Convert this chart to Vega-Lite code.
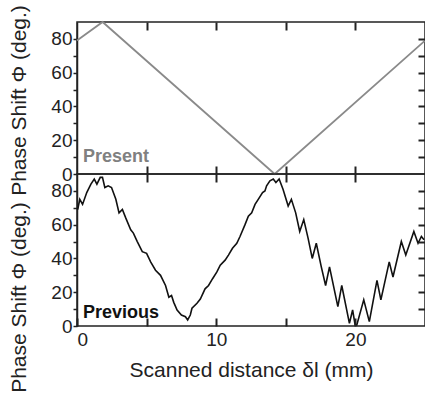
{
  "$schema": "https://vega.github.io/schema/vega-lite/v6.json",
  "padding": {"left": 7, "top": 3, "right": 0, "bottom": 0},
  "spacing": 0,
  "bounds": "flush",
  "config": {
    "font": "Liberation Sans",
    "view": {"stroke": "#222", "strokeWidth": 1.5},
    "axis": {"zindex": 1, "domainColor": "#222", "domainWidth": 1.5, "tickColor": "#222", "tickWidth": 1.5, "labelColor": "#222", "titleColor": "#222", "labelFont": "Liberation Sans", "titleFont": "Liberation Sans", "grid": false, "labelFontSize": 19, "titleFontSize": 21, "titleFontWeight": "normal"}
  },
  "datasets": {
    "present": [
      {"x": 0, "y": 79}, {"x": 1.84, "y": 90}, {"x": 14.2, "y": 0}, {"x": 25, "y": 79}
    ],
    "previous": [
      {"x": 0.05, "y": 69}, {"x": 0.2, "y": 75}, {"x": 0.4, "y": 72}, {"x": 0.7, "y": 79}, {"x": 1.0, "y": 84},
      {"x": 1.24, "y": 87}, {"x": 1.43, "y": 84}, {"x": 1.67, "y": 88}, {"x": 1.83, "y": 88}, {"x": 2.0, "y": 82},
      {"x": 2.24, "y": 83}, {"x": 2.48, "y": 82}, {"x": 2.79, "y": 75}, {"x": 3.02, "y": 67}, {"x": 3.26, "y": 69},
      {"x": 3.5, "y": 64}, {"x": 3.86, "y": 57}, {"x": 4.05, "y": 55}, {"x": 4.33, "y": 50}, {"x": 4.69, "y": 44},
      {"x": 5.0, "y": 43}, {"x": 5.29, "y": 38}, {"x": 5.64, "y": 33}, {"x": 6.0, "y": 30}, {"x": 6.36, "y": 24},
      {"x": 6.6, "y": 17}, {"x": 6.79, "y": 18}, {"x": 6.95, "y": 14}, {"x": 7.19, "y": 9.5}, {"x": 7.5, "y": 6.5},
      {"x": 7.79, "y": 5.5}, {"x": 7.95, "y": 3.6}, {"x": 8.14, "y": 6.5}, {"x": 8.26, "y": 10.5}, {"x": 8.62, "y": 13.5},
      {"x": 8.86, "y": 16}, {"x": 9.2, "y": 22}, {"x": 9.45, "y": 24}, {"x": 9.74, "y": 28}, {"x": 10.05, "y": 32},
      {"x": 10.29, "y": 36}, {"x": 10.64, "y": 39}, {"x": 10.88, "y": 42}, {"x": 11.17, "y": 46}, {"x": 11.48, "y": 49},
      {"x": 11.71, "y": 53}, {"x": 12.07, "y": 60}, {"x": 12.31, "y": 65}, {"x": 12.55, "y": 67}, {"x": 12.79, "y": 72},
      {"x": 13.02, "y": 75}, {"x": 13.33, "y": 79}, {"x": 13.5, "y": 80}, {"x": 13.62, "y": 83}, {"x": 13.86, "y": 86},
      {"x": 14.1, "y": 87}, {"x": 14.29, "y": 85}, {"x": 14.52, "y": 87}, {"x": 14.8, "y": 81}, {"x": 15.17, "y": 71},
      {"x": 15.4, "y": 75}, {"x": 15.71, "y": 67}, {"x": 16.0, "y": 56}, {"x": 16.29, "y": 63}, {"x": 16.6, "y": 52},
      {"x": 16.9, "y": 40}, {"x": 17.19, "y": 49}, {"x": 17.55, "y": 35}, {"x": 17.86, "y": 24}, {"x": 18.14, "y": 35},
      {"x": 18.74, "y": 11.5}, {"x": 19.02, "y": 24}, {"x": 19.57, "y": 1.6}, {"x": 19.8, "y": 9.5}, {"x": 19.98, "y": 0.6},
      {"x": 20.1, "y": 0.6}, {"x": 20.6, "y": 15.5}, {"x": 21.0, "y": 2.6}, {"x": 21.55, "y": 27}, {"x": 21.83, "y": 15.5},
      {"x": 22.43, "y": 38}, {"x": 22.7, "y": 29}, {"x": 23.3, "y": 50}, {"x": 23.62, "y": 42}, {"x": 24.2, "y": 56},
      {"x": 24.5, "y": 49}, {"x": 24.74, "y": 53}, {"x": 24.93, "y": 51}
    ],
    "labelTop": [{"x": 0.43, "y": 7.1, "t": "Present"}],
    "labelBottom": [{"x": 0.43, "y": 4.7, "t": "Previous"}]
  },
  "vconcat": [
    {
      "width": 348,
      "height": 152,
      "resolve": {"axis": {"x": "independent", "y": "independent"}},
      "layer": [
        {
          "data": {"name": "present"},
          "mark": {"type": "line", "color": "#8a8a8a", "strokeWidth": 1.8},
          "encoding": {
            "x": {"field": "x", "type": "quantitative", "scale": {"domain": [0, 25], "nice": false, "zero": false},
                  "axis": {"orient": "bottom", "title": null, "labels": false, "values": [5, 10, 15, 20], "tickSize": -8, "tickColor": "#222", "tickWidth": 2, "domain": false, "zindex": 1}},
            "y": {"field": "y", "type": "quantitative", "scale": {"domain": [0, 90], "nice": false},
                  "axis": {"orient": "left", "title": "Phase Shift Φ (deg.)", "values": [0, 10, 20, 30, 40, 50, 60, 70, 80],
                           "labelExpr": "datum.value % 20 == 0 ? datum.label : ''", "tickSize": 4, "labelPadding": 1,
                           "titleX": -58, "titleY": 78, "titleBaseline": "middle", "titleAnchor": "middle"}}
          }
        },
        {
          "data": {"name": "present"},
          "mark": {"type": "line", "opacity": 0},
          "encoding": {
            "x": {"field": "x", "type": "quantitative", "axis": {"orient": "top", "title": null, "labels": false, "values": [5, 10, 15, 20], "tickSize": -8, "tickColor": "#222", "tickWidth": 2, "domain": false, "zindex": 1}},
            "y": {"field": "y", "type": "quantitative", "axis": {"orient": "right", "title": null, "labels": false, "values": [10, 20, 30, 40, 50, 60, 70, 80], "tickSize": -7, "tickColor": "#222", "tickWidth": 2, "domain": false, "zindex": 1}}
          }
        },
        {
          "data": {"name": "labelTop"},
          "mark": {"type": "text", "align": "left", "baseline": "alphabetic", "fontSize": 18, "fontWeight": "bold", "color": "#808080"},
          "encoding": {
            "x": {"field": "x", "type": "quantitative", "axis": null},
            "y": {"field": "y", "type": "quantitative", "axis": null},
            "text": {"field": "t"}
          }
        }
      ]
    },
    {
      "width": 348,
      "height": 152,
      "resolve": {"axis": {"x": "independent", "y": "independent"}},
      "layer": [
        {
          "data": {"name": "previous"},
          "mark": {"type": "line", "color": "#111", "strokeWidth": 1.6},
          "encoding": {
            "x": {"field": "x", "type": "quantitative", "scale": {"domain": [0, 25], "nice": false, "zero": false},
                  "axis": {"orient": "bottom", "title": "Scanned distance δl (mm)", "values": [0, 5, 10, 15, 20],
                           "labelExpr": "datum.value % 10 == 0 ? datum.label : ''", "tickSize": -8, "tickColor": "#222", "tickWidth": 2, "labelPadding": 12, "titlePadding": 10, "domain": false, "zindex": 1}},
            "y": {"field": "y", "type": "quantitative", "scale": {"domain": [0, 90], "nice": false},
                  "axis": {"orient": "left", "title": "Phase Shift Φ (deg.)", "values": [0, 10, 20, 30, 40, 50, 60, 70, 80],
                           "labelExpr": "datum.value % 20 == 0 ? datum.label : ''", "tickSize": 4, "labelPadding": 1,
                           "titleX": -58, "titleY": 123, "titleBaseline": "middle", "titleAnchor": "middle"}}
          }
        },
        {
          "data": {"name": "previous"},
          "mark": {"type": "line", "opacity": 0},
          "encoding": {
            "x": {"field": "x", "type": "quantitative", "axis": {"orient": "top", "title": null, "labels": false, "values": [5, 10, 15, 20], "tickSize": -8, "tickColor": "#222", "tickWidth": 2, "domain": false, "zindex": 1}},
            "y": {"field": "y", "type": "quantitative", "axis": {"orient": "right", "title": null, "labels": false, "values": [10, 20, 30, 40, 50, 60, 70, 80], "tickSize": -7, "tickColor": "#222", "tickWidth": 2, "domain": false, "zindex": 1}}
          }
        },
        {
          "data": {"name": "labelBottom"},
          "mark": {"type": "text", "align": "left", "baseline": "alphabetic", "fontSize": 18, "fontWeight": "bold", "color": "#111"},
          "encoding": {
            "x": {"field": "x", "type": "quantitative", "axis": null},
            "y": {"field": "y", "type": "quantitative", "axis": null},
            "text": {"field": "t"}
          }
        }
      ]
    }
  ]
}
